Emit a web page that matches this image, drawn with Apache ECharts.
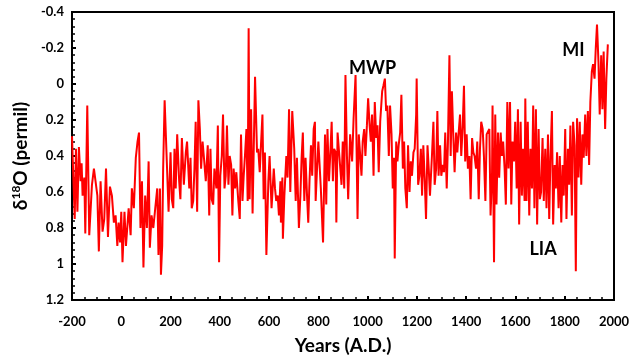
<!DOCTYPE html>
<html>
<head>
<meta charset="utf-8">
<script src="https://cdn.jsdelivr.net/npm/echarts@6/dist/echarts.min.js"></script>
<style>html,body{margin:0;padding:0;background:#fff}#c{width:631px;height:356px}</style>
</head>
<body>
<div id="c"></div>
<script>
const years = [-200,-192,-189,-184,-178,-172,-165,-161,-157,-150,-146,-138,-130,-119,-111,-103,-97,-91,-84,-76,-69,-62,-54,-46,-38,-30,-23,-16,-11,-5,0,5,13,19,30,38,43,51,59,66,72,78,84,90,97,104,111,116,123,130,138,146,151,157,161,166,170,176,184,192,200,205,211,216,221,227,235,240,246,254,262,267,276,281,286,292,297,302,308,313,319,324,330,335,343,351,357,362,367,373,378,386,392,397,402,408,413,419,424,429,435,440,446,451,456,462,467,475,481,486,492,497,502,508,513,517,521,527,533,543,551,556,562,567,573,578,583,589,597,602,610,619,624,629,635,640,646,648,654,656,662,670,675,681,686,694,702,708,713,721,727,732,737,743,748,754,759,764,770,775,781,786,789,794,800,805,810,819,827,832,837,843,848,854,859,864,870,873,878,886,894,899,905,910,916,921,929,937,943,951,959,964,970,975,980,986,991,997,1002,1008,1013,1018,1024,1029,1035,1040,1045,1051,1059,1064,1070,1075,1080,1086,1091,1097,1102,1107,1110,1116,1121,1126,1132,1137,1143,1148,1153,1159,1164,1170,1175,1180,1186,1191,1197,1199,1205,1210,1216,1221,1226,1232,1237,1243,1248,1253,1261,1267,1272,1278,1283,1288,1294,1299,1305,1310,1315,1321,1326,1332,1337,1342,1348,1353,1359,1364,1369,1375,1380,1386,1391,1396,1402,1407,1413,1418,1424,1429,1434,1440,1445,1451,1456,1461,1467,1472,1478,1483,1488,1494,1499,1505,1507,1513,1518,1523,1529,1534,1540,1545,1550,1556,1561,1567,1572,1578,1583,1588,1594,1599,1605,1610,1615,1621,1626,1631,1637,1640,1645,1650,1656,1661,1667,1672,1677,1683,1688,1694,1699,1704,1710,1715,1721,1726,1732,1737,1742,1748,1753,1759,1764,1769,1775,1780,1786,1791,1796,1802,1807,1813,1818,1823,1829,1834,1840,1845,1850,1856,1861,1867,1872,1877,1883,1888,1894,1899,1904,1910,1915,1921,1926,1931,1937,1942,1948,1953,1958,1964,1969,1975];
const d18O = [0.29,0.30,0.75,0.36,0.71,0.35,0.54,0.44,0.62,0.52,0.83,0.12,0.84,0.56,0.47,0.46,0.62,0.93,0.54,0.82,0.75,0.47,0.85,0.57,0.62,0.77,0.73,0.90,0.77,0.88,0.71,0.99,0.71,0.90,0.69,0.84,0.58,0.69,0.41,0.32,0.27,0.80,0.54,1.02,0.62,0.80,0.43,0.91,0.73,0.80,0.69,0.58,0.95,0.58,1.06,0.90,0.47,0.09,0.40,0.71,0.38,0.64,0.69,0.36,0.58,0.28,0.54,0.64,0.30,0.56,0.38,0.32,0.58,0.41,0.69,0.65,0.47,0.21,0.71,0.09,0.25,0.47,0.32,0.40,0.54,0.34,0.73,0.36,0.64,0.67,0.47,0.58,0.23,0.99,0.51,0.40,0.17,0.58,0.51,0.23,0.56,0.40,0.45,0.73,0.47,0.58,0.49,0.65,0.75,0.28,0.65,0.51,0.40,0.25,0.65,-0.31,0.64,0.14,0.72,-0.04,0.38,0.36,0.49,0.34,0.17,0.64,0.38,0.95,0.54,0.40,0.69,0.47,0.58,0.65,0.62,0.73,0.54,0.77,0.52,0.86,0.62,0.40,0.52,0.14,0.60,0.15,0.36,0.65,0.41,0.80,0.62,0.41,0.27,0.65,0.41,0.62,0.77,0.54,0.34,0.51,0.25,0.21,0.65,0.49,0.32,0.45,0.58,0.88,0.28,0.67,0.25,0.54,0.40,0.21,0.54,0.36,0.38,0.77,0.27,0.28,0.56,0.32,0.58,-0.05,0.40,0.64,0.28,0.43,0.19,-0.05,0.75,0.28,0.40,0.51,0.32,0.25,0.40,0.23,0.08,0.23,0.32,0.17,0.51,0.10,0.30,0.23,0.49,0.21,0.04,0.01,-0.03,0.15,0.12,0.40,0.12,0.28,0.58,0.41,0.97,0.32,0.43,0.34,0.27,0.06,0.47,0.32,0.58,0.69,0.34,0.60,0.43,0.51,0.38,0.36,0.17,-0.03,0.56,0.51,0.36,0.62,0.34,0.54,0.75,0.34,0.47,0.62,0.40,0.21,0.56,0.47,0.15,0.51,0.34,0.51,0.45,0.49,0.27,0.58,0.32,-0.16,0.40,0.04,0.30,0.49,0.27,0.38,0.28,0.17,0.40,0.23,0.01,0.43,0.28,0.47,0.40,0.64,0.30,0.38,0.40,0.47,0.32,0.64,0.36,0.21,0.25,0.40,0.65,0.28,0.27,0.25,0.73,0.49,0.12,0.99,0.17,0.67,0.27,0.52,0.27,0.40,0.32,0.47,0.67,0.10,0.47,0.10,0.67,0.32,0.43,0.21,0.58,0.14,0.78,0.21,0.62,0.36,0.65,0.08,0.65,0.21,0.73,0.36,0.58,0.12,0.69,0.14,0.78,0.25,0.64,0.60,0.30,0.65,0.36,0.69,0.28,0.75,0.41,0.15,0.78,0.45,0.58,0.38,0.69,0.40,0.77,0.45,0.62,0.25,0.75,0.36,0.56,0.23,0.73,0.21,0.34,1.04,0.19,0.52,0.21,0.56,0.28,0.41,0.17,0.40,0.15,0.45,0.10,-0.07,-0.11,-0.03,-0.20,-0.33,-0.12,0.17,-0.16,0.14,-0.18,0.25,-0.03,-0.22];
const annoText = ['MWP','MI','LIA'];
const annoYear = [1020,1835,1712];
const annoVal = [-0.09,-0.19,0.92];

const chart = echarts.init(document.getElementById('c'));
const font = 'Lato, "Open Sans", sans-serif';
chart.setOption({
  animation:false,
  grid:{left:72,right:17,top:12,bottom:56,outerBoundsMode:'none',containLabel:false,show:true,borderColor:'#000',borderWidth:2,backgroundColor:'transparent'},
  xAxis:{type:'value',min:-200,max:2000,interval:200,
    name:'Years (A.D.)',nameLocation:'middle',nameGap:36,
    nameTextStyle:{fontFamily:font,fontWeight:'bold',fontSize:19,color:'#000'},
    axisLine:{show:true,onZero:false,lineStyle:{color:'#000',width:2}},
    axisTick:{show:true,inside:true,length:4,lineStyle:{color:'#000',width:2}},
    minorTick:{show:true,splitNumber:4,length:3,lineStyle:{color:'#000',width:1.5}},
    splitLine:{show:false},
    axisLabel:{fontFamily:font,fontWeight:'bold',fontSize:13,color:'#000',margin:15,formatter:v=>String(v)}},
  yAxis:{type:'value',inverse:true,min:-0.4,max:1.2,interval:0.2,
    name:'{a|δ}{s|18}{a|O (permil)}',nameLocation:'middle',nameGap:40,nameRotate:90,
    nameTextStyle:{rich:{a:{fontFamily:font,fontWeight:'bold',fontSize:19,color:'#000'},s:{fontFamily:font,fontWeight:'bold',fontSize:12,color:'#000',verticalAlign:'top',padding:[0,0,8,0]}}},
    axisLine:{show:true,onZero:false,lineStyle:{color:'#000',width:2}},
    axisTick:{show:true,inside:true,length:4,lineStyle:{color:'#000',width:2}},
    minorTick:{show:true,splitNumber:5,length:3,lineStyle:{color:'#000',width:1.5}},
    splitLine:{show:false},
    axisLabel:{fontFamily:font,fontWeight:'bold',fontSize:13,color:'#000',margin:8,
      formatter:v=>String(Math.round(v*10)/10)}},
  series:[{type:'line',data:years.map((y,i)=>[y,d18O[i]]),showSymbol:false,smooth:false,
    lineStyle:{color:'#ff0000',width:2},itemStyle:{color:'#ff0000'},
    markPoint:{symbol:'circle',symbolSize:0,
      label:{show:true,position:'inside',fontFamily:font,fontWeight:'bold',fontSize:18,color:'#000',formatter:p=>p.name},
      data:annoText.map((t,i)=>({name:t,coord:[annoYear[i],annoVal[i]]}))}}]
});
</script>
</body>
</html>
